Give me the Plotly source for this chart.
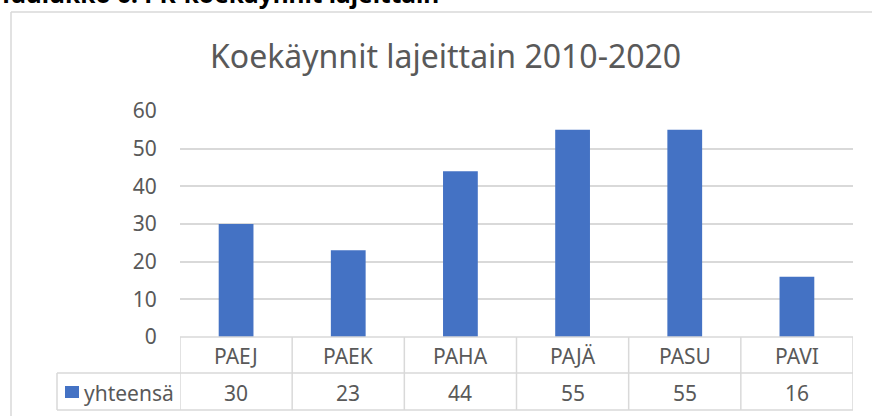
import plotly.graph_objects as go

# data
categories = ['PAEJ', 'PAEK', 'PAHA', 'PAJÄ', 'PASU', 'PAVI']
values = [30, 23, 44, 55, 55, 16]
series_name = 'yhteensä'
chart_title = 'Koekäynnit lajeittain 2010-2020'
caption = 'Taulukko 6. PK-koekäynnit lajeittain'

W, H = 872, 416
L, R, T, B = 180, 19, 111, 79
PW, PH = W - L - R, H - T - B

BLUE = '#4472C4'
GRID = '#d9d9d9'
TXT = '#595959'
FONT = 'Noto Sans'


def px(x):  # pixel x -> paper
    return (x - L) / PW


def py(y):  # pixel y -> paper
    return (H - B - y) / PH


fig = go.Figure()
fig.add_trace(go.Bar(x=categories, y=values, name=series_name,
                     marker=dict(color=BLUE, line=dict(width=0))))

shapes = []


def line(x0, y0, x1, y1, xref='paper', w=1.5):
    shapes.append(dict(type='line', xref=xref, yref='paper',
                       x0=x0, y0=y0, x1=x1, y1=y1,
                       line=dict(color=GRID, width=w)))


# table grid
row1, row2, row3 = 337, 373, 410
for i in range(len(categories) + 1):
    line(i - 0.5, py(row1), i - 0.5, py(row3), xref='x')
line(px(L), py(row1), 1, py(row1))
line(px(57), py(row2), 1, py(row2))
line(px(57), py(row3), 1, py(row3))
line(px(57), py(row2), px(57), py(row3))

# outer chart border
line(px(11), py(12), px(11), py(H + 10))
line(px(11), py(12), px(W + 10), py(12))

# legend key
shapes.append(dict(type='rect', xref='paper', yref='paper',
                   x0=px(65), x1=px(79), y0=py(386), y1=py(398),
                   fillcolor=BLUE, line=dict(width=0)))


def label(x, y, text, size, xref='paper', xanchor='center', yanchor='middle', color=TXT):
    annotations.append(dict(x=x, xref=xref, y=y, yref='paper', text=text,
                            xanchor=xanchor, yanchor=yanchor, showarrow=False,
                            font=dict(family=FONT, size=size, color=color)))


annotations = []
for c, v in zip(categories, values):
    label(c, py((row1 + row2) / 2 + 1), c, 21, xref='x')
    label(c, py((row2 + row3) / 2 + 1), str(v), 21, xref='x')
label(px(82), py((row2 + row3) / 2 + 1), series_name, 21, xanchor='left')
label(px(445), py(55), chart_title, 32)
label(px(-3), py(12), '<b>' + caption + '</b>', 24.5, xanchor='left',
      yanchor='bottom', color='#000000')

fig.update_layout(
    width=W, height=H,
    margin=dict(l=L, r=R, t=T, b=B, pad=0),
    paper_bgcolor='white', plot_bgcolor='white',
    showlegend=False,
    bargap=0.69,
    xaxis=dict(range=[-0.5, len(categories) - 0.5], showticklabels=False,
               showgrid=False, zeroline=False, showline=False),
    yaxis=dict(range=[0, 60], dtick=10, showgrid=True, gridcolor=GRID, gridwidth=1.5,
               zeroline=False, showline=False,
               ticks='outside', ticklen=18, tickcolor='rgba(0,0,0,0)',
               tickfont=dict(family=FONT, size=21, color=TXT)),
    shapes=shapes,
    annotations=annotations,
)

fig.write_html('out.html', config={'displayModeBar': False},
               post_script="document.body.style.margin='0';")
